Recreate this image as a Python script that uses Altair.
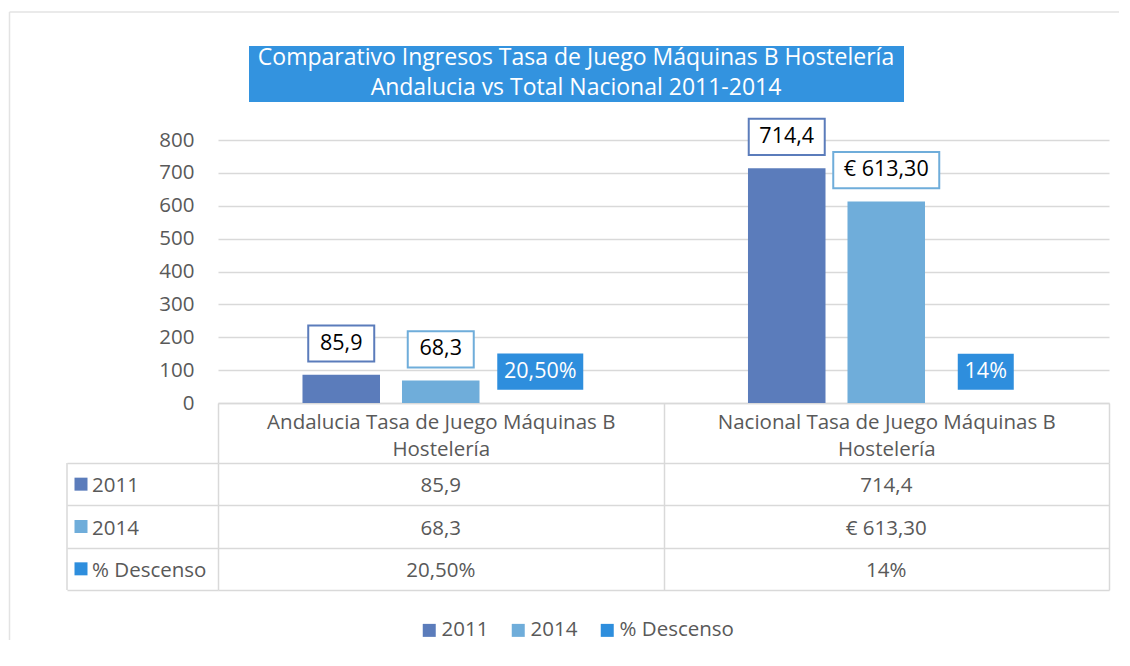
import altair as alt
import pandas as pd

CATEGORIES = ["Andalucia Tasa de Juego Máquinas B Hostelería",
              "Nacional Tasa de Juego Máquinas B Hostelería"]
SERIES = ["2011", "2014", "% Descenso"]
VALUES_2011 = [85.9, 714.4]
VALUES_2014 = [68.3, 613.3]
VALUES_DESC = [0.205, 0.14]
LABELS_2011 = ["85,9", "714,4"]
LABELS_2014 = ["68,3", "€ 613,30"]
LABELS_DESC = ["20,50%", "14%"]
COLORS = ["#5b7cbb", "#6fadda", "#2e8edd"]
TITLE_LINES = ["Comparativo Ingresos Tasa de Juego Máquinas B Hostelería",
               "Andalucia vs Total Nacional 2011-2014"]
Y_TICKS = [0, 100, 200, 300, 400, 500, 600, 700, 800]

FONT = "Open Sans"
GRAY_TEXT = "#595959"
LINE = "#d9d9d9"
FS = 20.5

rows = []
for s, vals, labs in zip(SERIES, [VALUES_2011, VALUES_2014, VALUES_DESC],
                         [LABELS_2011, LABELS_2014, LABELS_DESC]):
    for c, v, l in zip(CATEGORIES, vals, labs):
        rows.append({"category": c, "series": s, "value": v, "label": l})
df = pd.DataFrame(rows)

W, H = 891, 263
TW, TH = 891, 127

color_scale = alt.Scale(domain=SERIES, range=COLORS)
x_scale = alt.Scale(paddingInner=0, paddingOuter=0)
x_axis = alt.Axis(title=None, labelAngle=0, labelFont=FONT, labelFontSize=FS,
                  labelColor=GRAY_TEXT, labelLineHeight=27, labelLimit=1000,
                  labelExpr="datum.label ? [replace(datum.label, ' Hostelería', ''), 'Hostelería'] : ''",
                  tickBand="extent", tickSize=60, tickColor=LINE, tickWidth=1.5,
                  domainColor=LINE, domainWidth=1.5, labelPadding=-51,
                  labelBaseline="top", grid=False, labelOverlap=False)
xo_scale = alt.Scale(paddingInner=0.221, paddingOuter=0.849)
y_scale = alt.Scale(domain=[0, 800])
y_axis = alt.Axis(title=None, values=Y_TICKS, labelFont=FONT, labelFontSize=FS,
                  labelColor=GRAY_TEXT, labelPadding=24, ticks=False, domain=False,
                  grid=True, gridColor=LINE, gridWidth=1.5, labelOverlap=False)

xs = alt.X("category:N", sort=CATEGORIES, scale=x_scale, axis=x_axis)
xos = alt.XOffset("series:N", sort=SERIES, scale=xo_scale)


def yq(field):
    return alt.Y(field, type="quantitative", scale=y_scale, axis=y_axis)


base = alt.Chart(df).transform_calculate(
    lo="datum.value + 40", hi="datum.value + 150", mid="datum.value + 95",
    boxw="length(datum.label) * 10 + 26")

bars = base.mark_bar().encode(
    x=xs, xOffset=xos, y=yq("value"),
    color=alt.Color("series:N", sort=SERIES, scale=color_scale,
                    legend=alt.Legend(title=None, orient="none", legendX=201, legendY=480,
                                      direction="horizontal", symbolType="square",
                                      symbolSize=169, symbolStrokeWidth=0,
                                      labelFont=FONT, labelFontSize=FS, labelColor=GRAY_TEXT,
                                      columnPadding=19, labelOffset=2, padding=0,
                                      labelLimit=1000)),
)

boxes_white = base.transform_filter(alt.datum.series != "% Descenso").mark_bar(
    fill="white", strokeWidth=2).encode(
    x=xs, xOffset=xos, y=yq("lo"), y2="hi:Q",
    size=alt.Size("boxw:Q", scale=None),
    stroke=alt.Stroke("series:N", sort=SERIES, scale=color_scale, legend=None),
)

boxes_fill = base.transform_filter(alt.datum.series == "% Descenso").mark_bar().encode(
    x=xs, xOffset=xos, y=yq("lo"), y2="hi:Q",
    size=alt.Size("boxw:Q", scale=None),
    color=alt.Color("series:N", sort=SERIES, scale=color_scale, legend=None),
)

box_text = base.mark_text(font=FONT, fontSize=21.5, baseline="middle").encode(
    x=xs, xOffset=xos, y=yq("mid"), text="label:N",
    color=alt.condition(alt.datum.series == "% Descenso", alt.value("white"), alt.value("black")),
)

one = alt.Data(values=[{"k": 1}])
title_box = alt.Chart(one).mark_rect(color="#3393df").encode(
    x=alt.value(31), x2=alt.value(686), y=alt.value(-94), y2=alt.value(-38))
title_text = alt.Chart(one).mark_text(
    text=TITLE_LINES, font=FONT, fontSize=23, color="white", lineHeight=30,
    baseline="middle", align="center").encode(x=alt.value(358), y=alt.value(-82))
border_v = alt.Chart(one).mark_rule(color="#e3e3e3", strokeWidth=1.5).encode(
    x=alt.value(-208.5), y=alt.value(-128), y2=alt.value(500))
border_h = alt.Chart(one).mark_rule(color="#e3e3e3", strokeWidth=1.5).encode(
    x=alt.value(-208.5), x2=alt.value(901), y=alt.value(-128))

top = alt.layer(bars, boxes_white, boxes_fill, box_text, border_v, border_h,
                title_box, title_text).properties(width=W, height=H)

# data table
tx_axis = alt.Axis(title=None, labels=False, ticks=False, domain=False, grid=True,
                   tickBand="extent", gridColor=LINE, gridWidth=1.5)
ty_axis = alt.Axis(title=None, labels=False, ticks=True, tickSize=151,
                   tickBand="extent", tickColor=LINE, tickWidth=1.5, domain=False,
                   grid=True, gridColor=LINE, gridWidth=1.5)
ty_scale = alt.Scale(paddingInner=0, paddingOuter=0)
tx = alt.X("category:N", sort=CATEGORIES, scale=x_scale, axis=tx_axis)


def ty():
    return alt.Y("series:N", sort=SERIES, scale=ty_scale, axis=ty_axis)


cells = alt.Chart(df).mark_text(font=FONT, fontSize=FS, color=GRAY_TEXT, dy=2).encode(
    x=tx, y=ty(), text="label:N")
row_labels = alt.Chart(df).transform_filter(alt.datum.category == CATEGORIES[0]).mark_text(
    font=FONT, fontSize=FS, color=GRAY_TEXT, align="left", dy=2).encode(
    x=alt.value(-126), y=ty(), text="series:N")
swatches = alt.Chart(df).transform_filter(alt.datum.category == CATEGORIES[0]).mark_point(
    shape="square", filled=True, size=169, opacity=1).encode(
    x=alt.value(-137), y=ty(),
    color=alt.Color("series:N", sort=SERIES, scale=color_scale, legend=None))
left_border = alt.Chart(one).mark_rule(color=LINE, strokeWidth=1.5).encode(
    x=alt.value(-151), y=alt.value(0), y2=alt.value(TH))

table = alt.layer(cells, row_labels, swatches, left_border).properties(width=TW, height=TH)

chart = alt.vconcat(top, table, spacing=60, bounds="flush").properties(
    padding={"left": 0, "top": 3, "right": 0, "bottom": 0}
).configure(background="white").configure_view(strokeWidth=0, stroke="transparent")

chart.save("out.html", embed_options={"renderer": "svg", "actions": False})
